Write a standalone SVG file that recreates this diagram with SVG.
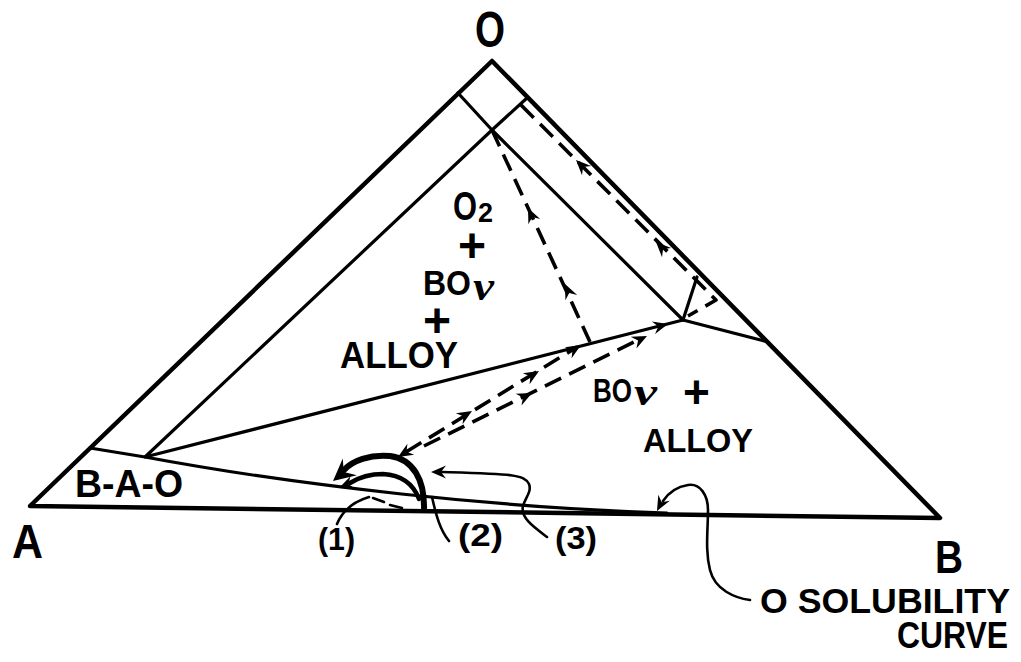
<svg xmlns="http://www.w3.org/2000/svg" xmlns:xlink="http://www.w3.org/1999/xlink" width="1021" height="662" viewBox="0 0 1021 662">
<style>
.bg{fill:#fff}
.ln{fill:none;stroke:#000;stroke-linecap:round;stroke-linejoin:round}
.outer{stroke-width:4.5}
.inner{stroke-width:3.2}
.dash{stroke-width:3.6;stroke-dasharray:18 9;stroke-linecap:butt}
.thin{stroke-width:2.6}
.arc1{stroke-width:6}
.arc2{stroke-width:4.5}
.t{font-family:"Liberation Sans",Arial,sans-serif;font-weight:bold;fill:#000}
.nu{font-family:"Liberation Serif","Times New Roman",serif;font-style:italic;font-weight:bold}
</style>
<defs>
<path id="ah" d="M0,0 L-15,-6.5 L-10,0 L-15,6.5 Z" fill="#000"/>
<path id="ahb" d="M0,0 L-22,-11 L-14,0 L-22,11 Z" fill="#000"/>
</defs>
<rect class="bg" width="1021" height="662"/>

<g id="diagram-lines">
  <path class="ln outer" d="M30,506 L492,61 L940,518 Z"/>
  <path class="ln inner" d="M458,93 L492,130 L527,98"/>
  <path class="ln inner" d="M492,130 L145,457 L683,320 Z"/>
  <path class="ln inner" d="M683,320 L768,342"/>
  <path class="ln inner" d="M683,320 L697,277"/>
  <path id="solubility-curve" class="ln inner" d="M90,448 L145,457 C300,486 500,508 667,513"/>
</g>

<g id="connectors">
  <path class="ln dash" d="M492,130 L590,342"/>
  <use xlink:href="#ah" transform="translate(528,208) rotate(-114.8)"/>
  <use xlink:href="#ah" transform="translate(565,284) rotate(-114.8)"/>

  <path class="ln dash" d="M521,105 L716,300 L688,316"/>
  <use xlink:href="#ah" transform="translate(576,160) rotate(-135)"/>
  <use xlink:href="#ah" transform="translate(656,242) rotate(-135)"/>

  <path class="ln dash" d="M406,452 L577,347"/>
  <use xlink:href="#ah" transform="translate(398,457) rotate(148.6)"/>
  <use xlink:href="#ah" transform="translate(472,411) rotate(-31.4)"/>
  <use xlink:href="#ah" transform="translate(539,371) rotate(-31.4)"/>
  <use xlink:href="#ah" transform="translate(581,345) rotate(-31.4)"/>

  <path class="ln dash" d="M424,446 L638,340"/>
  <use xlink:href="#ah" transform="translate(532,393) rotate(-26.4)"/>
  <use xlink:href="#ah" transform="translate(647,336) rotate(-26.4)"/>

  <use xlink:href="#ah" transform="translate(668,324) rotate(-14.3)"/>

  <path class="ln arc1" d="M424,510 C425,480 413,459 390,456 C370,454 352,461 344,470"/>
  <use xlink:href="#ahb" transform="translate(333,481) rotate(140)"/>
  <path class="ln arc2" d="M419,499 C413,483 400,475 383,474 C368,474 358,478 350,483"/>
  <use xlink:href="#ah" transform="translate(339,488) rotate(158)"/>

  <path class="ln thin" d="M547,537 C535,528 520,518 523,506 C525,498 532,492 529,484 C524,474 510,474 442,472"/>
  <use xlink:href="#ah" transform="translate(431,472) rotate(180)"/>
  <path class="ln thin" d="M449,541 C440,530 436,515 432,497"/>
  <path class="ln thin" d="M337,524 C342,512 352,502 369,497"/>
  <path class="ln thin" d="M373,498 L384,502 M390,505 L402,508"/>
  <path class="ln thin" d="M750,600 C735,598 715,590 710,570 C705,550 708,530 708,510 C708,495 700,483 688,485 C675,487 667,495 663,501"/>
  <use xlink:href="#ah" transform="translate(657,511) rotate(118)"/>
</g>

<g id="vertex-labels">
  <text class="t" x="475" y="47" font-size="50" textLength="30" lengthAdjust="spacingAndGlyphs">O</text>
  <text class="t" x="12" y="558" font-size="48" textLength="31" lengthAdjust="spacingAndGlyphs">A</text>
  <text class="t" x="935" y="573" font-size="46" textLength="28" lengthAdjust="spacingAndGlyphs">B</text>
</g>

<g id="region-o2-bo-alloy">
  <text class="t" font-size="40"><tspan x="453" y="220" textLength="24" lengthAdjust="spacingAndGlyphs">O</tspan><tspan x="478" y="222" font-size="27">2</tspan><tspan x="458" y="262" font-size="48">+</tspan><tspan x="423" y="295" font-size="35" textLength="48" lengthAdjust="spacingAndGlyphs">BO</tspan><tspan class="nu" x="473" y="300" font-size="40" textLength="21" lengthAdjust="spacingAndGlyphs">ν</tspan><tspan x="423" y="337" font-size="48">+</tspan><tspan x="340" y="368" font-size="36" textLength="118" lengthAdjust="spacingAndGlyphs">ALLOY</tspan></text>
</g>

<g id="region-bo-alloy">
  <text class="t" font-size="34"><tspan x="593" y="402" textLength="39" lengthAdjust="spacingAndGlyphs">BO</tspan><tspan class="nu" x="634" y="405" font-size="38" textLength="23" lengthAdjust="spacingAndGlyphs">ν</tspan><tspan x="683" y="408" font-size="46">+</tspan><tspan x="643" y="452" textLength="110" lengthAdjust="spacingAndGlyphs">ALLOY</tspan></text>
</g>

<g id="region-bao">
  <text class="t" x="75" y="497" font-size="38" textLength="108" lengthAdjust="spacingAndGlyphs">B-A-O</text>
</g>

<g id="curve-labels">
  <text class="t" x="318" y="550" font-size="32" textLength="37" lengthAdjust="spacingAndGlyphs">(1)</text>
  <text class="t" x="458" y="546" font-size="32" textLength="45" lengthAdjust="spacingAndGlyphs">(2)</text>
  <text class="t" x="555" y="549" font-size="32" textLength="42" lengthAdjust="spacingAndGlyphs">(3)</text>
  <text class="t" x="760" y="613" font-size="35" textLength="250" lengthAdjust="spacingAndGlyphs">O SOLUBILITY</text>
  <text class="t" x="897" y="648" font-size="36" textLength="111" lengthAdjust="spacingAndGlyphs">CURVE</text>
</g>
</svg>
